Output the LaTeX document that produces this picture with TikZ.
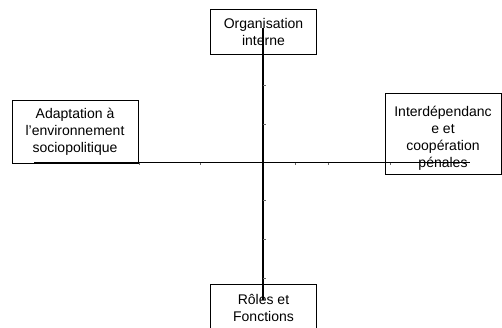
\documentclass[tikz,border=0pt]{standalone}
\usepackage{fontspec}
\setmainfont{Liberation Sans}
\begin{document}
\begin{tikzpicture}[x=1pt,y=-1pt,
  pole/.style={draw=black, line width=0.7pt, fill=white, inner sep=0pt,
    align=center, font=\fontsize{14}{17}\selectfont},
  axis/.style={line width=1.5pt, black},
  tick/.style={line width=0.5pt, black!60}]
\useasboundingbox (0,0) rectangle (502,327);
% the four poles
\node[pole, minimum width=106, minimum height=45] (top) at (263.5,31.5) {Organisation\\interne};
\node[pole, minimum width=126, minimum height=63] (left) at (75,132) {Adaptation à\\l’environnement\\sociopolitique};
\node[pole, minimum width=116, minimum height=81] (right) at (443,133.5) {\rule{0pt}{20pt}Interdépendanc\\e et\\coopération\\pénales};
\node[pole, minimum width=106, minimum height=48] (bottom) at (263.5,308) {Rôles et\\Fonctions};
% the two axes
\coordinate (vt) at (263,28);
\coordinate (vb) at (263,300);
\coordinate (hl) at (34,162.5);
\coordinate (hr) at (470,162.5);
\draw[axis] (vt) -- (vb);
\draw[axis] (hl) -- (hr);
% graduation marks
\foreach \y in {85,124,200,239,278}
  \draw[tick] (263,\y) -- ++(2.5,0);
\foreach \x in {139,200,295,328,390}
  \draw[tick] (\x,162.5) -- ++(0,2.5);
\end{tikzpicture}
\end{document}
